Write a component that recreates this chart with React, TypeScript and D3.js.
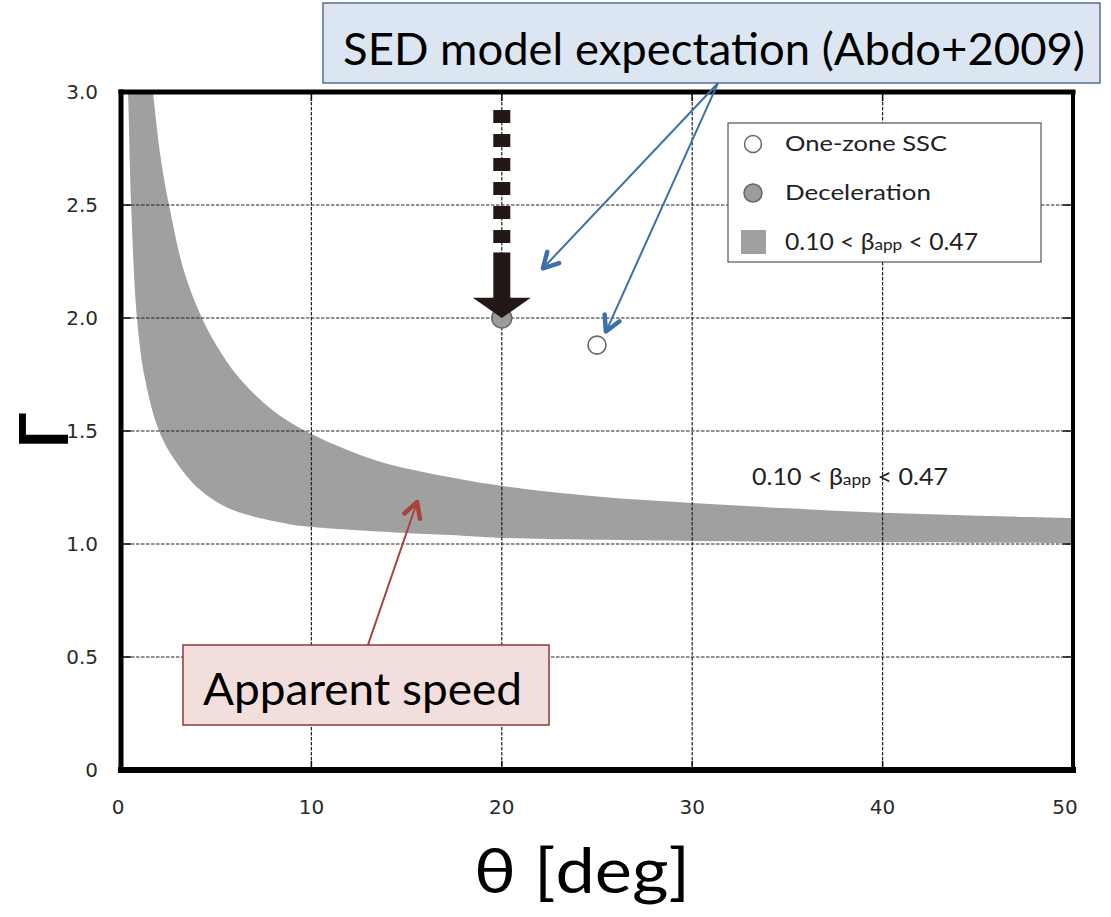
import React from "react";
import * as d3 from "d3";

// Axis ticks
const thetaTicks = [0, 10, 20, 30, 40, 50];
const gammaTicks = [0, 0.5, 1.0, 1.5, 2.0, 2.5, 3.0];
const gammaTickLabels = ["0", "0.5", "1.0", "1.5", "2.0", "2.5", "3.0"];

// Allowed region for 0.10 < beta_app < 0.47: upper and lower edges (theta [deg], Gamma)
const bandUpper: [number, number][] = [
  [1.45, 3.2], [1.68, 3.0], [2.1, 2.7], [2.57, 2.48], [3.3, 2.21], [4.25, 2.0],
  [5.3, 1.84], [6.36, 1.72], [8.0, 1.59], [9.93, 1.49], [13.4, 1.37], [17.3, 1.295],
  [20, 1.257], [25, 1.21], [30, 1.181], [35, 1.158], [40, 1.138], [45, 1.125], [50, 1.115],
];
const bandLower: [number, number][] = [
  [0.25, 3.25], [0.37, 3.0], [0.53, 2.5], [0.84, 2.0], [1.26, 1.73], [2.0, 1.5],
  [2.84, 1.37], [4.15, 1.24], [5.88, 1.15], [8.72, 1.09], [10.1, 1.075], [14.65, 1.05],
  [17.3, 1.04], [20, 1.027], [30, 1.013], [40, 1.008], [50, 1.004],
];

// Model points
const oneZoneSSC = { theta: 25, gamma: 1.88 };
const deceleration = { theta: 20, gamma: 2.0 };

// Downward arrow at the deceleration point (dashed part, shaft, head)
const arrowTheta = 20;
const arrowDashFrom = 2.92;
const arrowDashTo = 2.33;
const arrowShaftFrom = 2.29;
const arrowShaftTo = 2.08;
const arrowHeadBase = 2.09;
const arrowHeadTip = 2.0;

// Callout pointers (theta, Gamma)
const sedPointerStart: [number, number] = [31.36, 3.04];
const sedPointerTips: [number, number][] = [[22.16, 2.22], [25.47, 1.94]];
const speedPointerStart: [number, number] = [12.97, 0.553];
const speedPointerTip: [number, number] = [15.55, 1.186];

const W = 1111;
const H = 917;
const x = d3.scaleLinear().domain([0, 50]).range([121, 1073]);
const y = d3.scaleLinear().domain([0, 3]).range([770, 92]);

const BAND = "#a0a19f";
const BLUE = "#3d70aa";
const RED = "#a8423d";
const DARK = "#231815";
const sans = "Lato, 'Open Sans', 'Noto Sans', sans-serif";
const tickFont = "'DejaVu Sans', 'Open Sans', sans-serif";

function chevron(from: [number, number], to: [number, number], len: number) {
  const ang = Math.atan2(to[1] - from[1], to[0] - from[0]);
  const a1 = ang + Math.PI - 0.5;
  const a2 = ang + Math.PI + 0.5;
  return `M${to[0] + len * Math.cos(a1)},${to[1] + len * Math.sin(a1)}L${to[0]},${to[1]}L${to[0] + len * Math.cos(a2)},${to[1] + len * Math.sin(a2)}`;
}

function Pointer({ start, tip, color }: { start: [number, number]; tip: [number, number]; color: string }) {
  const p0: [number, number] = [x(start[0]), y(start[1])];
  const p1: [number, number] = [x(tip[0]), y(tip[1])];
  return (
    <g>
      <line x1={p0[0]} y1={p0[1]} x2={p1[0]} y2={p1[1]} stroke={color} strokeWidth={2} />
      <path d={chevron(p0, p1, 17)} fill="none" stroke={color} strokeWidth={4.5} strokeLinecap="round" strokeLinejoin="round" />
    </g>
  );
}

function BetaRange({ x0, y0, len }: { x0: number; y0: number; len: number }) {
  return (
    <text x={x0} y={y0} fontFamily={sans} fontSize={23} fill="#222" textLength={len} lengthAdjust="spacingAndGlyphs">
      0.10 &lt; β<tspan fontSize={16}>app</tspan> &lt; 0.47
    </text>
  );
}

export default function App() {
  const edge = d3
    .line<[number, number]>()
    .x((d) => x(d[0]))
    .y((d) => y(d[1]))
    .curve(d3.curveCatmullRom);
  const bandPath =
    edge(bandUpper)! + "L" + edge([...bandLower].reverse())!.slice(1) + "Z";

  const ax = x(arrowTheta);
  const headHalf = 29;

  return (
    <svg width={W} height={H} style={{ position: "absolute", left: 0, top: 0, background: "#fff" }}>
      <defs>
        <clipPath id="plot-clip">
          <rect x={121} y={92} width={952} height={678} />
        </clipPath>
      </defs>

      {/* band */}
      <path d={bandPath} fill={BAND} clipPath="url(#plot-clip)" />

      {/* grid */}
      <g stroke="#222" strokeWidth={1.2} strokeDasharray="3.5,1.5">
        {thetaTicks.slice(1, -1).map((t) => (
          <line key={"gx" + t} x1={x(t)} x2={x(t)} y1={92} y2={770} />
        ))}
        {gammaTicks.slice(1, -1).map((g) => (
          <line key={"gy" + g} x1={121} x2={1073} y1={y(g)} y2={y(g)} />
        ))}
      </g>
      {/* inward ticks */}
      <g stroke="#111" strokeWidth={1.5}>
        {thetaTicks.slice(1, -1).map((t) => (
          <g key={"tx" + t}>
            <line x1={x(t)} x2={x(t)} y1={770} y2={761} />
            <line x1={x(t)} x2={x(t)} y1={92} y2={101} />
          </g>
        ))}
        {gammaTicks.slice(1, -1).map((g) => (
          <g key={"ty" + g}>
            <line x1={121} x2={131} y1={y(g)} y2={y(g)} />
            <line x1={1073} x2={1063} y1={y(g)} y2={y(g)} />
          </g>
        ))}
      </g>

      {/* frame */}
      <g stroke="#000" strokeLinecap="square">
        <line x1={121} x2={121} y1={92} y2={770} strokeWidth={5} />
        <line x1={121} x2={1073} y1={92} y2={92} strokeWidth={5} />
        <line x1={1073} x2={1073} y1={92} y2={770} strokeWidth={4} />
        <line x1={121} x2={1073} y1={770} y2={770} strokeWidth={6} />
      </g>

      {/* tick labels */}
      {gammaTicks.map((g, i) => (
        <text
          key={"ly" + g}
          x={98}
          y={y(g) + 7}
          textAnchor="end"
          style={{ fontFamily: tickFont, fontSize: "20px", fill: "#2a2a2a" }}
        >
          {gammaTickLabels[i]}
        </text>
      ))}
      {thetaTicks.map((t) => (
        <text
          key={"lx" + t}
          x={x(t) - (t === 0 ? 3 : t === 50 ? 8 : 0)}
          y={814}
          textAnchor="middle"
          style={{ fontFamily: tickFont, fontSize: "20px", fill: "#2a2a2a" }}
        >
          {t}
        </text>
      ))}

      {/* model points */}
      <circle cx={x(oneZoneSSC.theta)} cy={y(oneZoneSSC.gamma)} r={9} fill="#fff" stroke="#666" strokeWidth={1.6} />
      <circle cx={x(deceleration.theta)} cy={y(deceleration.gamma)} r={10} fill="#9c9c9c" stroke="#666" strokeWidth={1.5} />

      {/* downward arrow */}
      <line x1={ax} x2={ax} y1={y(arrowDashFrom)} y2={y(arrowDashTo)} stroke={DARK} strokeWidth={17} strokeDasharray="13,11" />
      <line x1={ax} x2={ax} y1={y(arrowShaftFrom)} y2={y(arrowShaftTo)} stroke={DARK} strokeWidth={17} />
      <path
        d={`M${ax - headHalf},${y(arrowHeadBase)}L${ax + headHalf},${y(arrowHeadBase)}L${ax},${y(arrowHeadTip)}Z`}
        fill={DARK}
      />

      {/* legend */}
      <rect x={728} y={123} width={313} height={139} fill="#fff" stroke="#555" strokeWidth={1.2} />
      <circle cx={753} cy={144} r={8.5} fill="#fff" stroke="#666" strokeWidth={1.5} />
      <circle cx={753} cy={193} r={9} fill="#9c9c9c" stroke="#666" strokeWidth={1.5} />
      <rect x={741} y={230} width={25} height={24} fill={BAND} />
      <g fontFamily={sans} fontSize={22} fill="#222">
        <text x={785} y={151} textLength={162} lengthAdjust="spacingAndGlyphs">One-zone SSC</text>
        <text x={785} y={200} textLength={146} lengthAdjust="spacingAndGlyphs">Deceleration</text>
      </g>
      <BetaRange x0={785} y0={250} len={193} />

      {/* band label */}
      <BetaRange x0={752} y0={485} len={196} />

      {/* axis titles */}
      <text
        transform="translate(68,449) rotate(-90)"
        fontFamily={sans}
        fontSize={66}
        fontWeight={700}
        fill="#000"
      >
        Γ
      </text>
      <text x={474} y={893} fontFamily={sans} fontSize={62} fill="#000" textLength={216} lengthAdjust="spacingAndGlyphs">
        θ [deg]
      </text>

      {/* SED callout */}
      <rect x={323} y={3} width={777} height={80} fill="#dce6f2" stroke="#5a6f8c" strokeWidth={1.5} />
      <text x={343} y={65} fontFamily={sans} fontSize={44} fill="#000" textLength={742} lengthAdjust="spacingAndGlyphs">
        SED model expectation (Abdo+2009)
      </text>
      {sedPointerTips.map((tip, i) => (
        <Pointer key={"sp" + i} start={sedPointerStart} tip={tip} color={BLUE} />
      ))}

      {/* apparent speed callout */}
      <Pointer start={speedPointerStart} tip={speedPointerTip} color={RED} />
      <rect x={183} y={645} width={366} height={80} fill="#f2dedd" stroke="#8e3a36" strokeWidth={1.5} />
      <text x={203} y={705} fontFamily={sans} fontSize={44} fill="#000" textLength={319} lengthAdjust="spacingAndGlyphs">
        Apparent speed
      </text>
    </svg>
  );
}
